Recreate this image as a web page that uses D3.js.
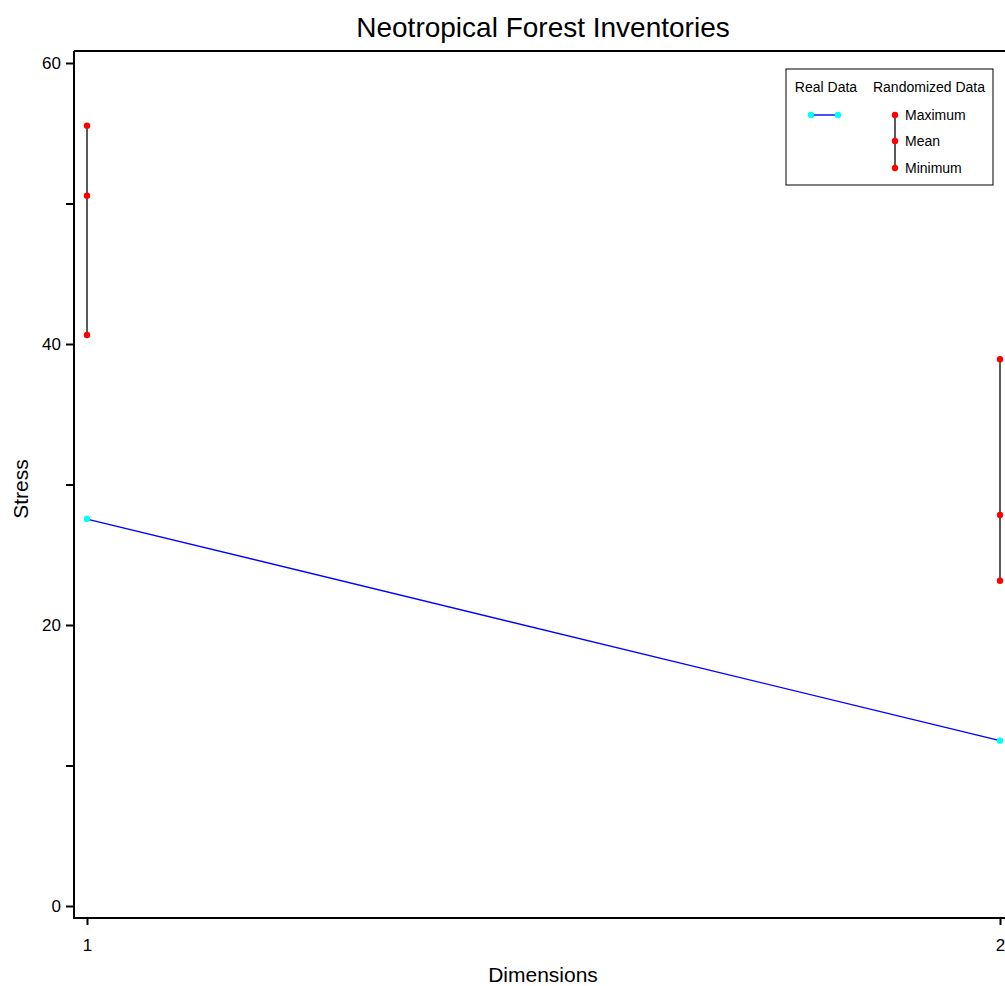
<!DOCTYPE html>
<html>
<head>
<meta charset="utf-8">
<script src="https://cdn.jsdelivr.net/npm/d3@7"></script>
<style>
  body { margin: 0; background: #fff; }
  text { font-family: "Liberation Sans", Arial, sans-serif; fill: #000; }
</style>
</head>
<body>
<div id="chart"></div>
<script>
const width = 1005;
const height = 986;

// data
const dimensions = [1, 2];
const realStress = [27.54, 11.77];
const randMax = [55.54, 38.91];
const randMean = [50.55, 27.83];
const randMin = [40.64, 23.15];
const yTicks = [0, 20, 40, 60];
const yMinorTicks = [10, 30, 50];

const svg = d3.select("#chart")
    .append("svg")
    .attr("width", width)
    .attr("height", height);

const x = d3.scaleLinear().domain([1, 2]).range([87, 1000]);
const y = d3.scaleLinear().domain([0, 60]).range([906, 63]);

// frame (right edge falls outside the picture)
svg.append("path")
    .attr("d", "M74,51 H1010 M74,51 V918 H1010")
    .attr("fill", "none")
    .attr("stroke", "#000")
    .attr("stroke-width", 2);

// y axis
const yAxis = svg.append("g")
    .attr("transform", "translate(73,0)")
    .call(d3.axisLeft(y).tickValues(yTicks).tickSize(7).tickPadding(5).tickFormat(d3.format("d")));
yAxis.select(".domain").remove();
yAxis.selectAll("line").attr("stroke-width", 2);
yAxis.selectAll("text").style("font-size", "17px").style("font-family", "Liberation Sans, Arial, sans-serif");

const yMinor = svg.append("g")
    .attr("transform", "translate(73,0)")
    .call(d3.axisLeft(y).tickValues(yMinorTicks).tickSize(7).tickFormat(""));
yMinor.select(".domain").remove();
yMinor.selectAll("line").attr("stroke-width", 2);

// x axis
const xAxis = svg.append("g")
    .attr("transform", "translate(0,919)")
    .call(d3.axisBottom(x).tickValues(dimensions).tickSize(6).tickPadding(14).tickFormat(d3.format("d")));
xAxis.select(".domain").remove();
xAxis.selectAll("line").attr("stroke-width", 2);
xAxis.selectAll("text").style("font-size", "17px").style("font-family", "Liberation Sans, Arial, sans-serif");

// randomized ranges
const rows = dimensions.map((d, i) => ({ d, max: randMax[i], mean: randMean[i], min: randMin[i], real: realStress[i] }));

svg.append("g").selectAll("line")
    .data(rows)
    .enter().append("line")
    .attr("x1", r => x(r.d)).attr("x2", r => x(r.d))
    .attr("y1", r => y(r.max)).attr("y2", r => y(r.min))
    .attr("stroke", "#000")
    .attr("stroke-width", 1.3);

svg.append("g").selectAll("circle")
    .data(rows.flatMap(r => [r.max, r.mean, r.min].map(v => ({ d: r.d, v }))))
    .enter().append("circle")
    .attr("cx", p => x(p.d))
    .attr("cy", p => y(p.v))
    .attr("r", 3.2)
    .attr("fill", "#ff0000");

// real data
svg.append("path")
    .datum(rows)
    .attr("fill", "none")
    .attr("stroke", "#0000ff")
    .attr("stroke-width", 1.4)
    .attr("d", d3.line().x(r => x(r.d)).y(r => y(r.real)));

svg.append("g").selectAll("circle")
    .data(rows)
    .enter().append("circle")
    .attr("cx", r => x(r.d))
    .attr("cy", r => y(r.real))
    .attr("r", 3.2)
    .attr("fill", "#00ffff");

// titles
svg.append("text")
    .attr("x", 543).attr("y", 37)
    .attr("text-anchor", "middle")
    .style("font-size", "28px")
    .text("Neotropical Forest Inventories");

svg.append("text")
    .attr("x", 543).attr("y", 982)
    .attr("text-anchor", "middle")
    .style("font-size", "21px")
    .text("Dimensions");

svg.append("text")
    .attr("transform", "translate(28,489) rotate(-90)")
    .attr("text-anchor", "middle")
    .style("font-size", "21px")
    .text("Stress");

// legend
const legend = svg.append("g");
legend.append("rect")
    .attr("x", 786).attr("y", 69)
    .attr("width", 207).attr("height", 116)
    .attr("fill", "#fff")
    .attr("stroke", "#000")
    .attr("stroke-width", 1);

legend.append("text").attr("x", 826).attr("y", 92).attr("text-anchor", "middle")
    .style("font-size", "14px").text("Real Data");
legend.append("text").attr("x", 929).attr("y", 92).attr("text-anchor", "middle")
    .style("font-size", "14px").text("Randomized Data");

legend.append("line").attr("x1", 811).attr("x2", 838).attr("y1", 115).attr("y2", 115)
    .attr("stroke", "#0000ff").attr("stroke-width", 1.4);
legend.selectAll(".lr").data([811, 838]).enter().append("circle")
    .attr("cx", d => d).attr("cy", 115).attr("r", 3.2).attr("fill", "#00ffff");

const legendItems = ["Maximum", "Mean", "Minimum"];
const legendY = [115, 141, 168];
legend.append("line").attr("x1", 895).attr("x2", 895).attr("y1", 115).attr("y2", 168)
    .attr("stroke", "#000").attr("stroke-width", 1.3);
legend.selectAll(".lp").data(legendItems).enter().append("circle")
    .attr("cx", 895).attr("cy", (d, i) => legendY[i]).attr("r", 3.2).attr("fill", "#ff0000");
legend.selectAll(".lt").data(legendItems).enter().append("text")
    .attr("x", 905).attr("y", (d, i) => legendY[i] + 5)
    .style("font-size", "14px")
    .text(d => d);
</script>
</body>
</html>
